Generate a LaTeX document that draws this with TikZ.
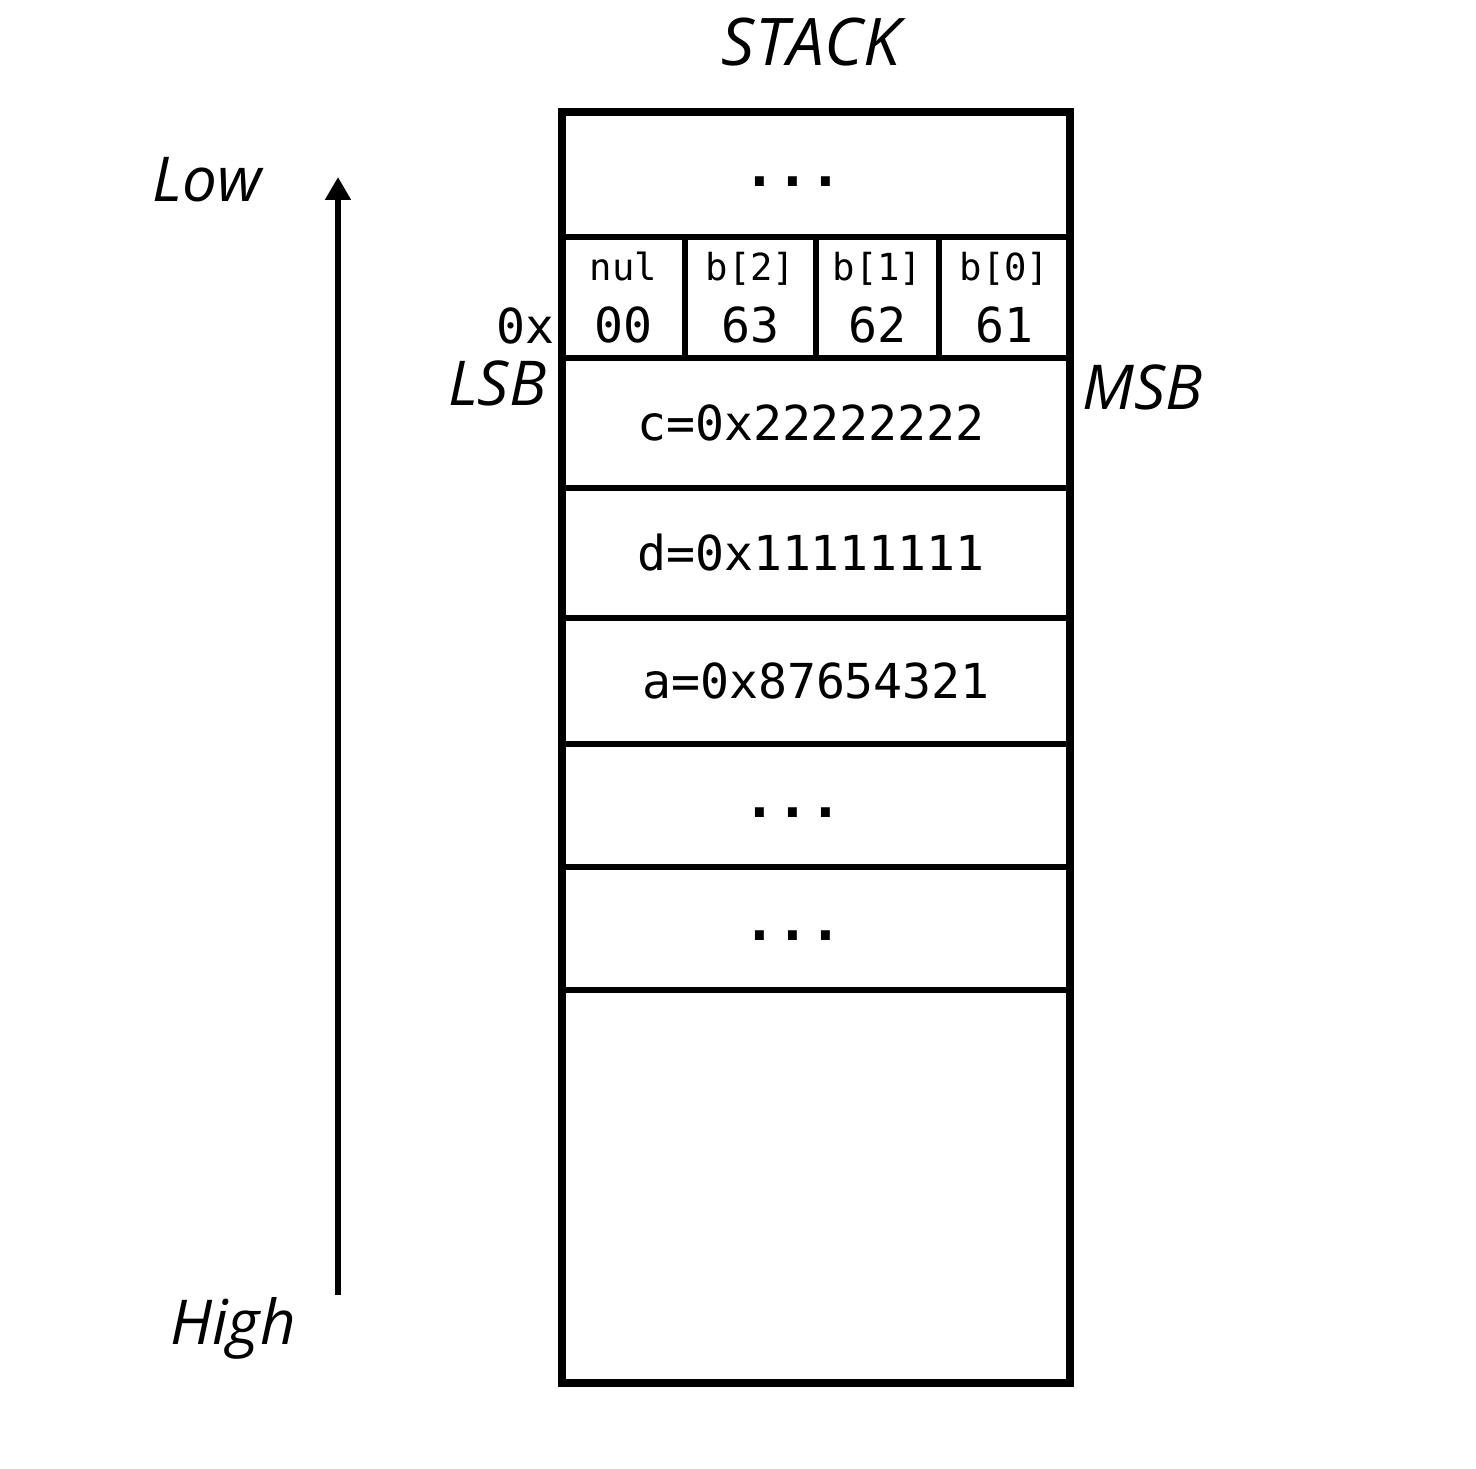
\documentclass[tikz,border=0pt]{standalone}
\usepackage{fontspec}
\setmainfont{Open Sans}
\setmonofont{DejaVu Sans Mono}
\usetikzlibrary{arrows.meta,positioning}

\tikzset{
  row/.style={draw,line width=1.6pt,minimum width=5.08cm,inner sep=0pt,outer sep=0pt,
    text height=10pt,text depth=0pt,font=\ttfamily\fontsize{13.7}{16}\selectfont},
  gap/.style={row,text height=6.6pt,font=\ttfamily\bfseries\fontsize{15.5}{18}\selectfont},
  cell/.style={draw,line width=1.6pt,minimum height=1.21cm,inner sep=0pt,outer sep=0pt,
    align=center,font=\ttfamily\fontsize{13.7}{17.5}\selectfont},
  side/.style={font=\itshape\fontsize{17.6}{20}\selectfont,inner sep=0pt},
}
\newcommand{\bname}[1]{{\fontsize{10.6}{12}\selectfont #1}}
\newcommand{\skipdots}{...\hspace*{0.46cm}}

\begin{document}
\begin{tikzpicture}
  \useasboundingbox (0,0) rectangle (14.76,-14.68);

  \node[side,font=\itshape\fontsize{18.7}{22}\selectfont] (title) at (8.11,-0.42) {STACK};

  % stack rows, top to bottom
  \node[gap,minimum height=1.25cm,anchor=north] (top) at (8.16,-1.12) {\skipdots};
  \node[cell,minimum width=1.23cm,anchor=north west] (nul) at (5.62,-2.37) {\bname{nul}\\00};
  \node[cell,minimum width=1.31cm,right=0cm of nul] (b2) {\bname{b[2]}\\63};
  \node[cell,minimum width=1.23cm,right=0cm of b2] (b1) {\bname{b[1]}\\62};
  \node[cell,minimum width=1.31cm,right=0cm of b1] (b0) {\bname{b[0]}\\61};
  \node[row,minimum height=1.30cm,anchor=north] (c) at (8.16,-3.58) {c=0x22222222\hspace*{0.1cm}};
  \node[row,minimum height=1.30cm,below=0cm of c] (d) {d=0x11111111\hspace*{0.1cm}};
  \node[row,minimum height=1.26cm,below=0cm of d] (a) {a=0x87654321};
  \node[gap,minimum height=1.23cm,below=0cm of a] (more) {\skipdots};
  \node[gap,minimum height=1.23cm,below=0cm of more] (rest) {\skipdots};
  \node[row,minimum height=3.93cm,below=0cm of rest] (bottom) {};
  \draw[line width=2.2pt] (top.north west) rectangle (bottom.south east);

  % byte order labels
  \node[font=\ttfamily\fontsize{13.7}{16}\selectfont,inner sep=0pt,anchor=base east] (hex) at (5.55,-3.43) {0x};
  \node[side,anchor=east] (lsb) at (5.47,-3.83) {LSB};
  \node[side,anchor=west] (msb) at (10.82,-3.87) {MSB};

  % address direction
  \node[side] (low) at (2.07,-1.80) {Low};
  \node[side] (high) at (2.33,-13.28) {High};
  \coordinate (hi) at (3.38,-12.95);
  \coordinate (lo) at (3.38,-1.77);
  \draw[line width=1.9pt,-{Triangle[width=7pt,length=6.5pt]}] (hi) -- (lo);
\end{tikzpicture}
\end{document}
